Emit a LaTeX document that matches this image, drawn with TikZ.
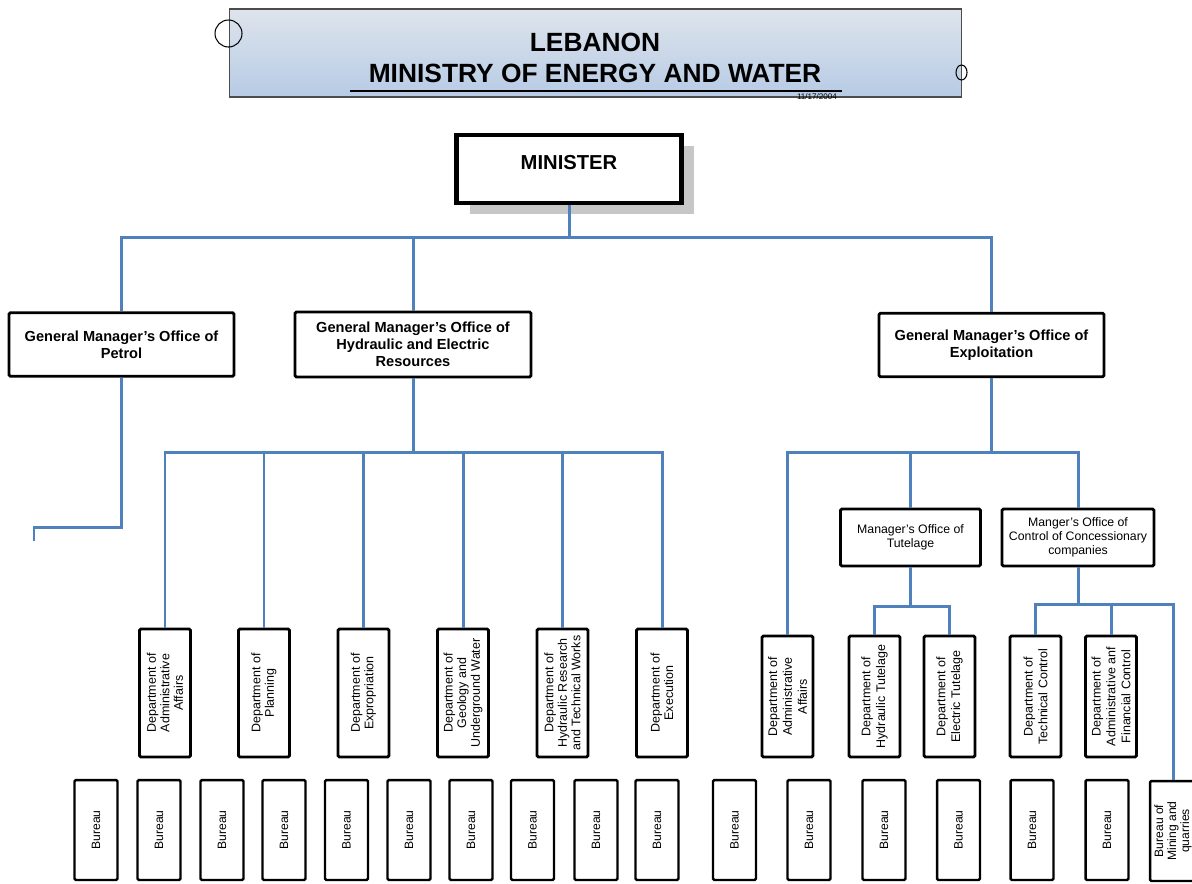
\documentclass[tikz,border=0pt]{standalone}
\usepackage{fontspec}
\setmainfont{Liberation Sans}
\usetikzlibrary{shadows}
\definecolor{linkblue}{RGB}{79,129,189}
\definecolor{titletop}{RGB}{222,228,236}
\definecolor{titlebot}{RGB}{183,203,229}

\begin{document}
\begin{tikzpicture}[x=0.02cm, y=-0.02cm,
    every node/.append style={align=center},
    box/.style={draw, line width=1.6pt, rounded corners=0.8pt, fill=white, inner sep=1pt},
    gm/.style={box, font=\fontsize{8.3}{9.6}\selectfont\bfseries, minimum height=1.27cm},
    mgr/.style={box, font=\fontsize{7}{7.9}\selectfont, minimum width=2.8cm, minimum height=1.14cm},
    dept/.style={box, rotate=90, font=\fontsize{7.1}{7.7}\selectfont, minimum width=2.56cm, minimum height=1.02cm},
    deptB/.style={dept, font=\fontsize{7.1}{8.5}\selectfont, minimum width=2.42cm},
    bur/.style={box, rotate=90, line width=1.4pt, font=\fontsize{6.9}{7.4}\selectfont, minimum width=2cm, minimum height=0.86cm},
    link/.style={draw=linkblue, line width=1.7pt}]
   \useasboundingbox (0,0) rectangle (1192,883);

   % title banner
   \node[draw=black!70, line width=0.6pt, top color=titletop, bottom color=titlebot,
         minimum width=14.66cm, minimum height=1.76cm] (titlebox) at (595.5,53) {};
   \node[font=\fontsize{15}{18.1}\selectfont\bfseries] (titletext) at (595,58) {LEBANON\\MINISTRY OF ENERGY AND WATER};
   \draw[line width=0.6pt] (350,91) -- (842,91);
   \node[font=\fontsize{4.6}{5}\selectfont, inner sep=0] (date) at (817,97) {11/17/2004};
   \draw[line width=0.6pt] (228.5,33.5) ellipse [x radius=0.27cm, y radius=0.27cm];
   \draw[line width=0.6pt] (961.5,72.5) ellipse [x radius=0.11cm, y radius=0.15cm];

   % top level
   \node[draw, line width=2.8pt, fill=white, minimum width=4.5cm, inner sep=0,
         text height=0.68cm, text depth=0.68cm, font=\fontsize{11.5}{13}\selectfont\bfseries,
         drop shadow={shadow xshift=0.26cm, shadow yshift=-0.22cm, fill=black!22, opacity=1}] (minister) at (569,169) {MINISTER};
   \node[gm, minimum width=4.5cm] (petrol) at (121.5,344.5) {General Manager's Office of\\Petrol};
   \node[gm, minimum width=4.72cm, minimum height=1.3cm] (hydro) at (413,344.5) {General Manager's Office of\\Hydraulic and Electric\\Resources};
   \node[gm, minimum width=4.5cm] (exploit) at (991.5,345) {General Manager's Office of\\Exploitation};

   % hydraulic and electric departments
   \node[dept] (admin) at (165,693) {Department of\\Administrative\\Affairs};
   \node[dept] (planning) at (264,693) {Department of\\Planning};
   \node[dept] (exprop) at (363.5,693) {Department of\\Expropriation};
   \node[dept] (geology) at (463,693) {Department of\\Geology and\\Underground Water};
   \node[dept] (research) at (562.5,693) {Department of\\Hydraulic Research\\and Technical Works};
   \node[dept] (execution) at (662,693) {Department of\\Execution};

   % exploitation side
   \node[mgr] (tutelage) at (910.5,537.5) {Manager's Office of\\Tutelage};
   \node[mgr, minimum width=3.04cm] (concess) at (1078,537.5) {Manger's Office of\\Control of Concessionary\\companies};
   \node[deptB] (adminB) at (787.5,696.5) {Department of\\Administrative\\Affairs};
   \node[deptB] (hydtut) at (874.5,696.5) {Department of\\Hydraulic Tutelage};
   \node[deptB] (electut) at (949.5,696.5) {Department of\\Electric Tutelage};
   \node[deptB] (techctl) at (1035.5,696.5) {Department of\\Technical Control};
   \node[deptB] (finctl) at (1111,696.5) {Department of\\Administrative anf\\Financial Control};

   % bureaus
   \node[bur] (b1) at (96,830) {Bureau};
   \node[bur] (b2) at (159,830) {Bureau};
   \node[bur] (b3) at (222,830) {Bureau};
   \node[bur] (b4) at (284,830) {Bureau};
   \node[bur] (b5) at (346.5,830) {Bureau};
   \node[bur] (b6) at (409,830) {Bureau};
   \node[bur] (b7) at (471,830) {Bureau};
   \node[bur] (b8) at (532.5,830) {Bureau};
   \node[bur] (b9) at (596,830) {Bureau};
   \node[bur] (b10) at (657,830) {Bureau};
   \node[bur] (b11) at (734.5,830) {Bureau};
   \node[bur] (b12) at (809,830) {Bureau};
   \node[bur] (b13) at (884,830) {Bureau};
   \node[bur] (b14) at (958.5,830) {Bureau};
   \node[bur] (b15) at (1032,830) {Bureau};
   \node[bur] (b16) at (1107,830) {Bureau};
   \node[bur, minimum height=0.92cm] (mining) at (1173,831) {Bureau of\\Mining and\\quarries};

   % connectors
   \coordinate (top) at (569,237);
   \coordinate (petrolbend) at (121.5,527);
   \coordinate (petrolend) at (34,541);
   \coordinate (hbar) at (413,452);
   \coordinate (ebar) at (991.5,452);
   \coordinate (tbar) at (910.5,606);
   \coordinate (cbar) at (1078,604);
   \path[link] (minister) -- (top)
             (petrol) |- (top) -| (exploit)
             (hydro) -- (hydro |- top)
             (petrol) -- (petrolbend) -| (petrolend);
   \path[link] (hydro) -- (hbar)
             (admin) |- (hbar) -| (execution)
             (planning) -- (planning |- hbar)
             (exprop) -- (exprop |- hbar)
             (geology) -- (geology |- hbar)
             (research) -- (research |- hbar);
   \path[link] (exploit) -- (ebar)
             (adminB) |- (ebar) -| (concess)
             (tutelage) -- (tutelage |- ebar);
   \path[link] (tutelage) -- (tbar)
             (hydtut) |- (tbar) -| (electut);
   \path[link] (concess) -- (cbar)
             (techctl) |- (cbar) -| (mining)
             (finctl) -- (finctl |- cbar);
\end{tikzpicture}
\end{document}
